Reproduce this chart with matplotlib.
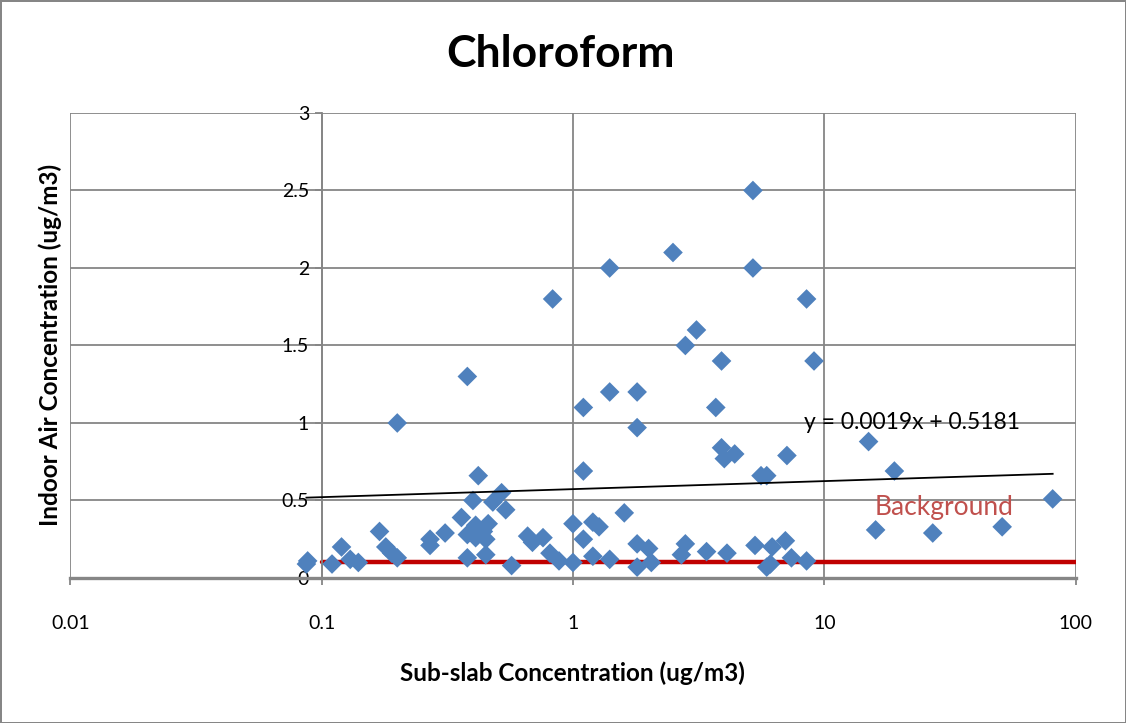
import matplotlib
matplotlib.use("Agg")
import matplotlib.pyplot as plt
import numpy as np
from matplotlib.ticker import FixedLocator, FixedFormatter, NullLocator

plt.rcParams["font.family"] = ["Lato", "DejaVu Sans"]

# Sub-slab vs indoor air chloroform (ug/m3)
sub_slab = [
    5.2, 2.5, 1.4, 5.2, 0.83, 8.5, 3.1, 2.8, 3.9, 9.1,
    0.38, 1.4, 1.8, 1.1, 3.7, 0.2, 1.8, 15, 3.9, 4.4,
    4.0, 7.1, 5.6, 5.9, 1.1, 19, 0.42, 81, 0.40, 0.52,
    0.48, 0.54, 0.36, 0.41, 0.46, 0.38, 0.44, 0.41, 0.45, 0.38,
    0.45, 0.57, 0.31, 0.27, 0.27, 0.17, 0.12, 0.18, 0.19, 0.20,
    0.13, 0.14, 0.11, 0.087, 0.088, 0.66, 0.76, 0.69, 0.81, 0.88,
    1.0, 1.0, 1.2, 1.27, 1.1, 1.6, 1.2, 1.4, 1.8, 1.8,
    2.0, 2.05, 2.8, 2.7, 3.4, 4.1, 5.3, 6.2, 7.0, 5.9,
    6.1, 7.4, 8.5, 16, 27, 51,
]
indoor_air = [
    2.5, 2.1, 2.0, 2.0, 1.8, 1.8, 1.6, 1.5, 1.4, 1.4,
    1.3, 1.2, 1.2, 1.1, 1.1, 1.0, 0.97, 0.88, 0.84, 0.80,
    0.77, 0.79, 0.66, 0.66, 0.69, 0.69, 0.66, 0.51, 0.50, 0.55,
    0.49, 0.44, 0.39, 0.34, 0.35, 0.28, 0.30, 0.26, 0.25, 0.13,
    0.15, 0.08, 0.29, 0.25, 0.21, 0.30, 0.20, 0.20, 0.16, 0.13,
    0.12, 0.10, 0.09, 0.09, 0.11, 0.27, 0.26, 0.23, 0.16, 0.11,
    0.10, 0.35, 0.36, 0.33, 0.25, 0.42, 0.14, 0.12, 0.22, 0.07,
    0.19, 0.10, 0.22, 0.15, 0.17, 0.16, 0.21, 0.20, 0.24, 0.07,
    0.09, 0.13, 0.11, 0.31, 0.29, 0.33,
]

# linear trendline reported for the data
slope = 0.0019
intercept = 0.5181

# background level
background_x = [0.1, 100]
background_y = [0.1, 0.1]

x_ticks = [0.01, 0.1, 1, 10, 100]
x_tick_labels = ["0.01", "0.1", "1", "10", "100"]
y_ticks = [0, 0.5, 1, 1.5, 2, 2.5, 3]
y_tick_labels = ["0", "0.5", "1", "1.5", "2", "2.5", "3"]

grid_color = "#868686"

fig = plt.figure(figsize=(11.26, 7.23), dpi=100)
fig.patch.set_edgecolor(grid_color)
fig.patch.set_linewidth(2)
ax = fig.add_axes([0.0624, 0.2006, 0.8929, 0.6431])

ax.set_xscale("log")
ax.set_xlim(0.01, 100)
ax.set_ylim(0, 3)

# gridlines including the plot edges
for xv in x_ticks:
    ax.axvline(xv, color=grid_color, lw=1.3, zorder=0)
for yv in y_ticks[1:]:
    ax.axhline(yv, color=grid_color, lw=1.3, zorder=0)

ax.plot(background_x, background_y, color="#C00000", lw=3.2, zorder=2,
        solid_capstyle="round")

ax.scatter(sub_slab, indoor_air, marker="D", s=100, color="#4F81BD",
           edgecolors="none", zorder=3)

x_end = np.array([min(sub_slab), max(sub_slab)])
ax.plot(x_end, slope * x_end + intercept, color="black", lw=1.3, zorder=4)

ax.text(8.3, 1.0, "y = 0.0019x + 0.5181", fontsize=16.5, va="center",
        ha="left", zorder=5)
ax.text(15.8, 0.455, "Background", fontsize=19, color="#C0504D",
        va="center", ha="left", zorder=5)

for side in ["top", "right"]:
    ax.spines[side].set_visible(False)
ax.spines["left"].set_position(("data", 0.1))
ax.spines["left"].set_color(grid_color)
ax.spines["left"].set_linewidth(1.3)
ax.spines["bottom"].set_color(grid_color)
ax.spines["bottom"].set_linewidth(2.4)

ax.xaxis.set_major_locator(FixedLocator(x_ticks))
ax.xaxis.set_major_formatter(FixedFormatter(x_tick_labels))
ax.xaxis.set_minor_locator(NullLocator())
ax.yaxis.set_major_locator(FixedLocator(y_ticks))
ax.yaxis.set_major_formatter(FixedFormatter(y_tick_labels))

ax.tick_params(axis="x", direction="out", length=5, width=1.3,
               color=grid_color, pad=22, labelsize=14)
ax.tick_params(axis="y", direction="out", length=5, width=1.3,
               color=grid_color, pad=4, labelsize=14)

fig.text(0.498, 0.926, "Chloroform", fontsize=32, fontweight="bold",
         ha="center", va="center")
fig.text(0.5085, 0.069, "Sub-slab Concentration (ug/m3)", fontsize=17.5,
         fontweight="bold", ha="center", va="center")
fig.text(0.045, 0.5225, "Indoor Air Concentration (ug/m3)", fontsize=17.5,
         fontweight="bold", ha="center", va="center", rotation=90)

fig.savefig("out.png", dpi=100, edgecolor=fig.get_edgecolor())
